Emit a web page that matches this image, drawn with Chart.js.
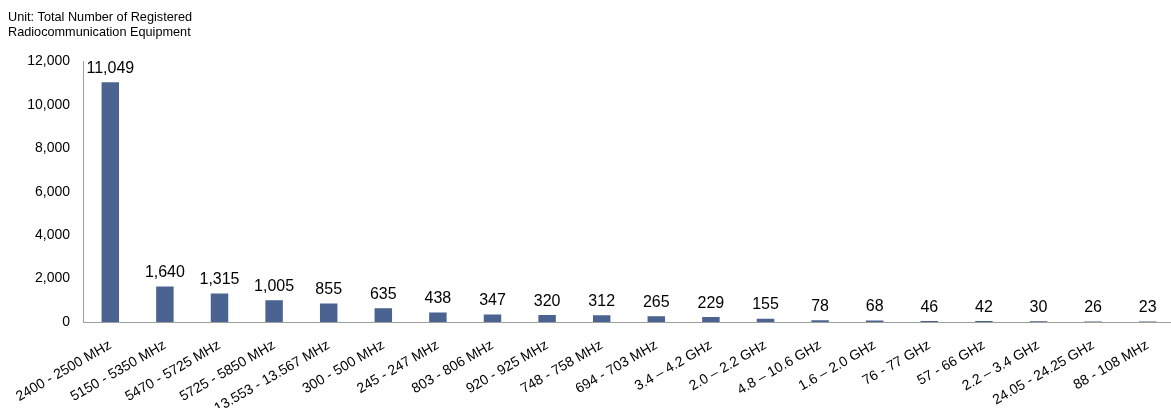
<!DOCTYPE html>
<html>
<head>
<meta charset="utf-8">
<script src="https://cdn.jsdelivr.net/npm/chart.js@4/dist/chart.umd.min.js"></script>
<style>
  html, body { margin: 0; padding: 0; background: #fff; overflow: hidden; }
  #wrap { position: relative; width: 1180px; height: 408px; }
</style>
</head>
<body>
<div id="wrap"><canvas id="chart"></canvas></div>
<script>
// Frequency bands, ordered by number of registered devices
const bands = [
  '2400 - 2500 MHz', '5150 - 5350 MHz', '5470 - 5725 MHz', '5725 - 5850 MHz',
  '13.553 - 13.567 MHz', '300 - 500 MHz', '245 - 247 MHz', '803 - 806 MHz',
  '920 - 925 MHz', '748 - 758 MHz', '694 - 703 MHz', '3.4 – 4.2 GHz',
  '2.0 – 2.2 GHz', '4.8 – 10.6 GHz', '1.6 – 2.0 GHz', '76 - 77 GHz',
  '57 - 66 GHz', '2.2 – 3.4 GHz', '24.05 - 24.25 GHz', '88 - 108 MHz'
];
const registered = [
  11049, 1640, 1315, 1005, 855, 635, 438, 347, 320, 312,
  265, 229, 155, 78, 68, 46, 42, 30, 26, 23
];
const yTicks = [0, 2000, 4000, 6000, 8000, 10000, 12000];
const unitNote = ['Unit: Total Number of Registered', 'Radiocommunication Equipment'];

const FONT = "'Liberation Sans', Arial, sans-serif";
const fmt = v => v.toLocaleString('en-US');

// Writes each bar's value just above it
const valueLabels = {
  id: 'valueLabels',
  afterDatasetsDraw(chart) {
    const ctx = chart.ctx;
    const meta = chart.getDatasetMeta(0);
    ctx.save();
    ctx.font = '16px ' + FONT;
    ctx.fillStyle = '#000';
    ctx.textAlign = 'center';
    ctx.textBaseline = 'alphabetic';
    meta.data.forEach((bar, i) => {
      ctx.fillText(fmt(registered[i]), bar.x, bar.y - 9.5);
    });
    ctx.restore();
  }
};

new Chart(document.getElementById('chart'), {
  type: 'bar',
  data: {
    labels: bands,
    datasets: [{
      data: registered,
      backgroundColor: '#4a6391',
      borderWidth: 0,
      categoryPercentage: 1,
      barPercentage: 0.32
    }]
  },
  options: {
    responsive: true,
    maintainAspectRatio: false,
    animation: false,
    layout: { padding: { left: 8, right: 5, top: 0, bottom: 0 } },
    plugins: {
      legend: { display: false },
      tooltip: { enabled: false },
      title: {
        display: true,
        text: unitNote,
        align: 'start',
        color: '#000',
        font: { family: FONT, size: 12.7, weight: 'normal', lineHeight: 1.2 },
        padding: { top: 10, bottom: 21 }
      }
    },
    scales: {
      x: {
        grid: { display: false, drawTicks: false },
        border: { display: true, color: '#9e9e9e', width: 1 },
        ticks: {
          color: '#000',
          font: { family: FONT, size: 14 },
          minRotation: 30,
          maxRotation: 30,
          autoSkip: false,
          padding: 15
        },
        afterFit(scale) { scale.height = 86; }
      },
      y: {
        min: 0,
        max: 12000,
        afterBuildTicks(scale) { scale.ticks = yTicks.map(v => ({ value: v })); },
        grid: { display: false, drawTicks: false },
        border: { display: true, color: '#9e9e9e', width: 1 },
        ticks: {
          color: '#000',
          font: { family: FONT, size: 14 },
          padding: 13,
          callback: v => fmt(v)
        },
        afterFit(scale) { scale.width = 75; }
      }
    }
  },
  plugins: [valueLabels]
});
</script>
</body>
</html>
